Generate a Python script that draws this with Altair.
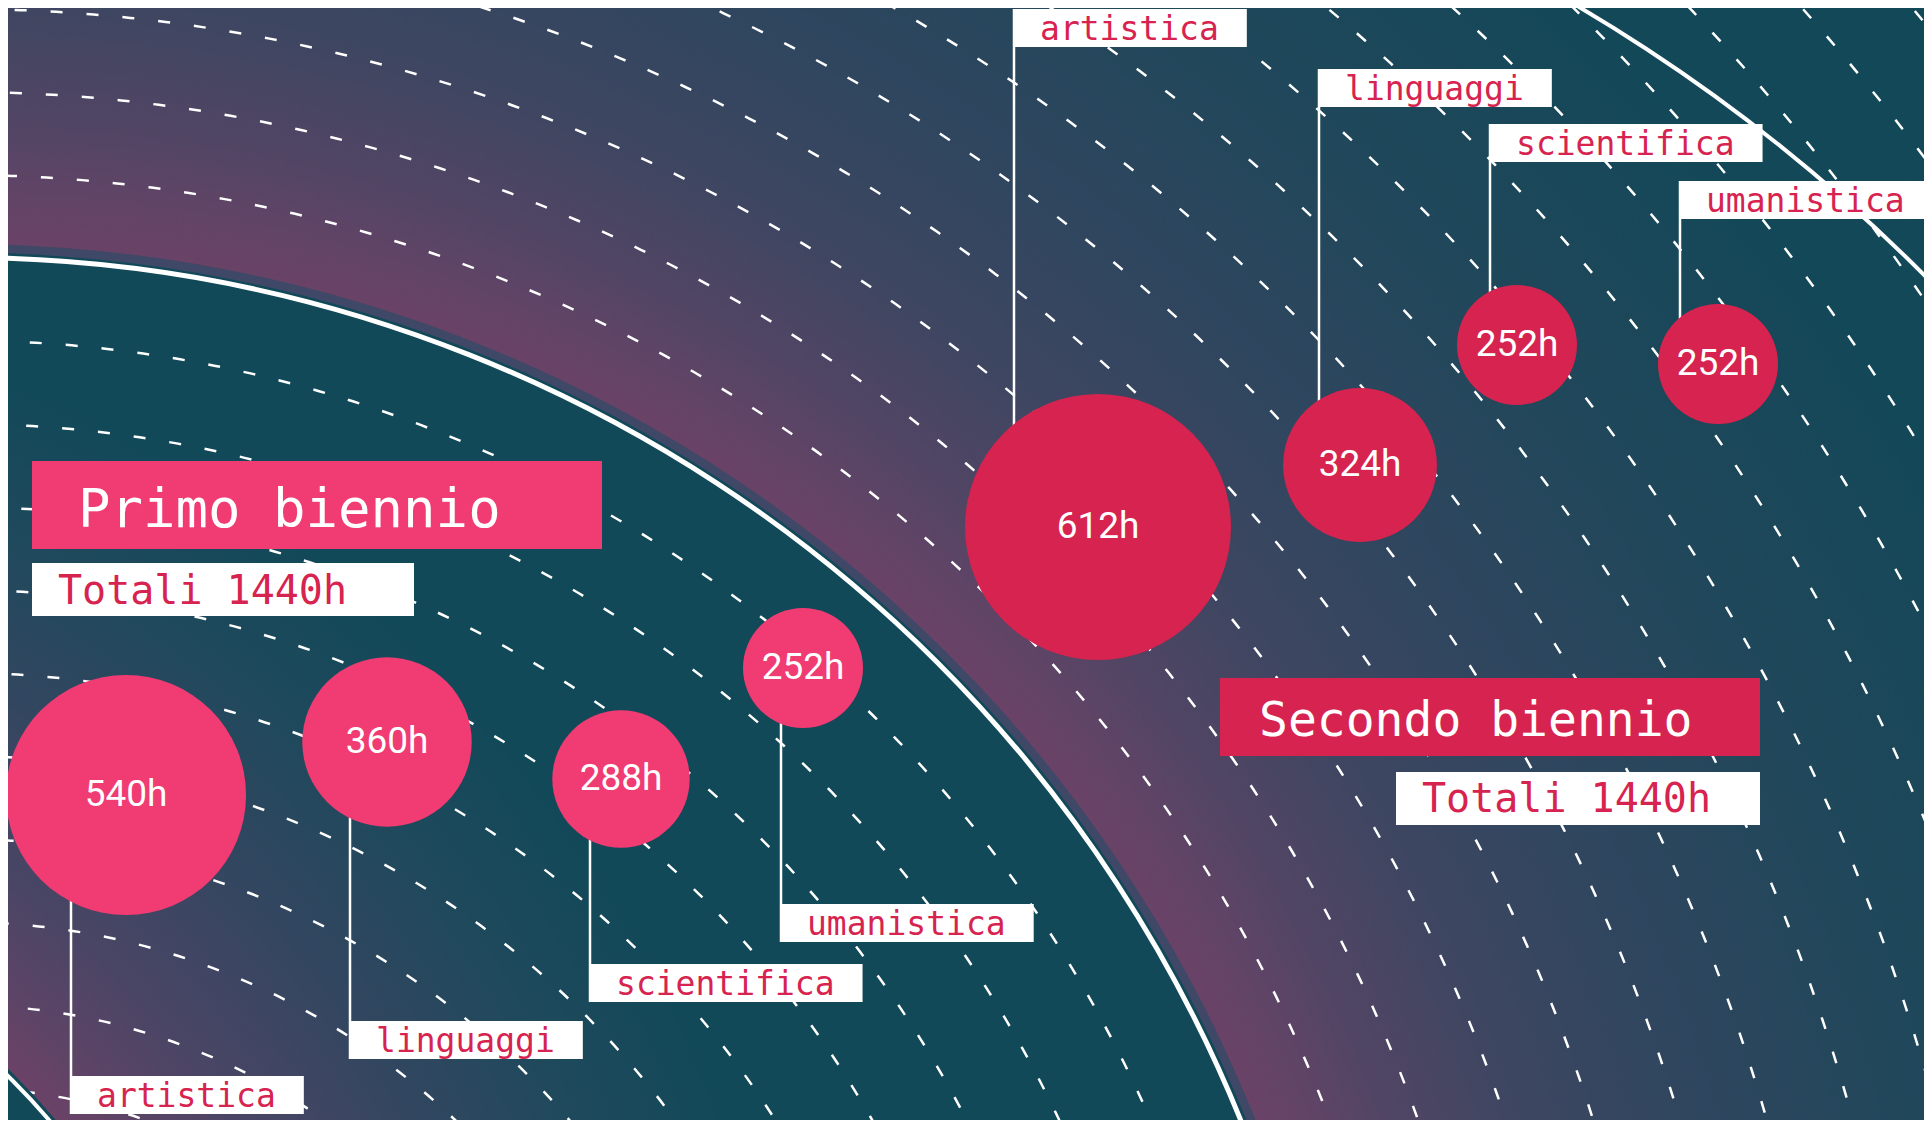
import altair as alt
import pandas as pd

# ---------------- data ----------------
categories = ["artistica", "linguaggi", "scientifica", "umanistica"]
bienni = ["Primo biennio", "Secondo biennio"]
hours_primo = [540, 360, 288, 252]
hours_secondo = [612, 324, 252, 252]

# ---------------- layout (reference pixel space) ----------------
layout = {
    "Primo biennio": dict(bx=[126, 387, 621, 803], by=[795, 742, 779, 668],
                          lx=[71, 350, 590, 781], ly=[1095, 1040, 983, 923], side=1),
    "Secondo biennio": dict(bx=[1098, 1360, 1517, 1718], by=[527, 465, 345, 364],
                            lx=[1014, 1319, 1490, 1680], ly=[28, 88, 143, 200], side=-1),
}
title_layout = {
    "Primo biennio": dict(tx0=32, tx1=602, ty0=461, ty1=549, ttx=78, tty=527, tfs=54,
                          sx0=32, sx1=414, sy0=563, sy1=616, stx=58, sty=604),
    "Secondo biennio": dict(tx0=1220, tx1=1760, ty0=678, ty1=756, ttx=1259, tty=736, tfs=48,
                            sx0=1396, sx1=1760, sy0=772, sy1=825, stx=1422, sty=812),
}

PINK = "#f03b73"
CRIMSON = "#d7234f"
TEAL = "#114959"
BAND = "#3f4866"
PURPLE = "#6c4267"

rows = []
for b, hrs in zip(bienni, [hours_primo, hours_secondo]):
    L = layout[b]
    for i, (c, h) in enumerate(zip(categories, hrs)):
        rows.append(dict(biennio=b, categoria=c, ore=h, bx=L["bx"][i], by=L["by"][i],
                         lx=L["lx"][i], ly=L["ly"][i], side=L["side"]))
df = pd.DataFrame(rows)

trows = []
for b, hrs in zip(bienni, [hours_primo, hours_secondo]):
    trows.append(dict(biennio=b, titolo=b, totale="Totali %dh" % sum(hrs), **title_layout[b]))
tdf = pd.DataFrame(trows)

# ---------------- scales ----------------
xs = alt.Scale(domain=[8, 1924], nice=False, zero=False)
ys = alt.Scale(domain=[8, 1120], nice=False, zero=False, reverse=True)
colscale = alt.Scale(domain=bienni, range=[PINK, CRIMSON])


def X(f):
    return alt.X(f, type="quantitative", scale=xs, axis=None)


def Y(f):
    return alt.Y(f, type="quantitative", scale=ys, axis=None)


# ---------------- background geometry ----------------
C = (-40, 1640)
R_MAIN = 1382
SMALL_C = (-483, 1575)
R_SMALL = 700
OUTER_C = (702, 1493)
R_OUTER = 1725
R_HALO = 2700
SPACING = 83


def shape(cx, cy, r, mark="circle", **props):
    d = pd.DataFrame({"cx": [cx], "cy": [cy]})
    size = (2 * r) ** 2
    ch = alt.Chart(d)
    if mark == "circle":
        m = ch.mark_circle(opacity=1, clip=True, **props)
    else:
        m = ch.mark_point(shape="circle", filled=False, opacity=1, clip=True, **props)
    return m.encode(x=X("cx"), y=Y("cy"), size=alt.value(size))


def rings(radii, **props):
    d = pd.DataFrame({"cx": [C[0]] * len(radii), "cy": [C[1]] * len(radii),
                      "d2": [(2 * r) ** 2 for r in radii]})
    return alt.Chart(d).mark_point(shape="circle", filled=False, opacity=1, clip=True,
                                   stroke="white", strokeWidth=2.5, strokeDash=[12, 24], **props).encode(
        x=X("cx"), y=Y("cy"), size=alt.Size("d2:Q", scale=None, legend=None))


def stops(pairs):
    return [alt.GradientStop(color=c, offset=o) for o, c in pairs]


halo_grad = alt.RadialGradient(
    gradient="radial", x1=0.5, y1=0.5, r1=0, x2=0.5, y2=0.5, r2=0.5,
    stops=stops([(0.0, PURPLE), (1382 / R_HALO, PURPLE), (1450 / R_HALO, "#604466"),
                 (1520 / R_HALO, "#514564"), (1640 / R_HALO, "#3e4661"),
                 (1800 / R_HALO, "#30465f"), (2000 / R_HALO, "#22475b"),
                 (2300 / R_HALO, "#134858"), (1.0, TEAL)]))

D = 2 * R_MAIN
gx = (SMALL_C[0] - (C[0] - R_MAIN)) / D
gy = (SMALL_C[1] - (C[1] - R_MAIN)) / D
GR = 1300
inner_grad = alt.RadialGradient(
    gradient="radial", x1=gx, y1=gy, r1=0, x2=gx, y2=gy, r2=GR / D,
    stops=stops([(0.0, PURPLE), (700 / GR, PURPLE), (760 / GR, "#5d4466"),
                 (850 / GR, "#4a4565"), (1000 / GR, "#334660"),
                 (1150 / GR, "#1f495c"), (1.0, TEAL)]))

bg_layers = [
    shape(C[0], C[1], R_HALO, fill=halo_grad),
    rings([R_MAIN + SPACING * k for k in range(1, 16)]),
    shape(OUTER_C[0], OUTER_C[1], R_OUTER, mark="point", stroke="white", strokeWidth=4),
    shape(C[0], C[1], R_MAIN + 14, fill=BAND),
    shape(C[0], C[1], R_MAIN + 5.5, fill=TEAL),
    shape(C[0], C[1], R_MAIN, fill=inner_grad, stroke="white", strokeWidth=5),
    rings([R_MAIN - SPACING * k for k in range(1, 13)]),
    shape(SMALL_C[0], SMALL_C[1], R_SMALL + 5, fill=TEAL),
    shape(SMALL_C[0], SMALL_C[1], R_SMALL, fill=TEAL, stroke="white", strokeWidth=4),
]

# ---------------- data layers ----------------
CHAR_W = 19.87
base = alt.Chart(df).transform_calculate(
    lend="datum.ly + 19 * datum.side",
    bx1="datum.lx + length(datum.categoria) * %f + 54" % CHAR_W,
    tcx="datum.lx + 26 + length(datum.categoria) * %f / 2" % CHAR_W,
    by0="datum.ly - 19",
    by1="datum.ly + 19",
    tby="datum.ly + 12",
    lab="datum.ore + 'h'",
)

leaders = base.mark_rule(color="white", strokeWidth=2.5).encode(
    x=X("lx"), y=Y("by"), y2=alt.Y2("lend:Q"))
label_boxes = base.mark_rect(color="white").encode(
    x=X("bx1"), x2=alt.X2("lx:Q"), y=Y("by0"), y2=alt.Y2("by1:Q"))
label_text = base.mark_text(font="DejaVu Sans Mono", fontSize=33, color=CRIMSON,
                            align="center", baseline="alphabetic").encode(
    x=X("tcx"), y=Y("tby"), text="categoria:N")
bubbles = base.mark_circle(opacity=1).encode(
    x=X("bx"), y=Y("by"),
    size=alt.Size("ore:Q", scale=alt.Scale(type="pow", exponent=1.5, domain=[252, 612],
                                           range=[14400, 70756]), legend=None),
    color=alt.Color("biennio:N", scale=colscale, legend=None))
bubble_text = base.mark_text(font="Roboto", fontSize=37, fontWeight="normal", color="white",
                             align="center", baseline="middle").encode(
    x=X("bx"), y=Y("by"), text="lab:N")

tbase = alt.Chart(tdf)
title_box = tbase.mark_rect().encode(
    x=X("tx0"), x2=alt.X2("tx1:Q"), y=Y("ty0"), y2=alt.Y2("ty1:Q"),
    color=alt.Color("biennio:N", scale=colscale, legend=None))
title_texts = []
for b in bienni:
    title_texts.append(
        tbase.transform_filter(alt.datum.biennio == b).mark_text(
            font="DejaVu Sans Mono", fontSize=title_layout[b]["tfs"], color="white",
            align="left", baseline="alphabetic").encode(x=X("ttx"), y=Y("tty"), text="titolo:N"))
tot_box = tbase.mark_rect(color="white").encode(
    x=X("sx0"), x2=alt.X2("sx1:Q"), y=Y("sy0"), y2=alt.Y2("sy1:Q"))
tot_text = tbase.mark_text(font="DejaVu Sans Mono", fontSize=40, color=CRIMSON,
                           align="left", baseline="alphabetic").encode(
    x=X("stx"), y=Y("sty"), text="totale:N")

chart = alt.layer(
    *bg_layers, leaders, label_boxes, label_text, bubbles, bubble_text,
    title_box, *title_texts, tot_box, tot_text
).properties(
    width=1916, height=1112, padding=0, background=TEAL,
    autosize=alt.AutoSizeParams(type="none"),
).configure_view(strokeWidth=0)

chart.save("out.html", embed_options={"renderer": "svg", "actions": False})
